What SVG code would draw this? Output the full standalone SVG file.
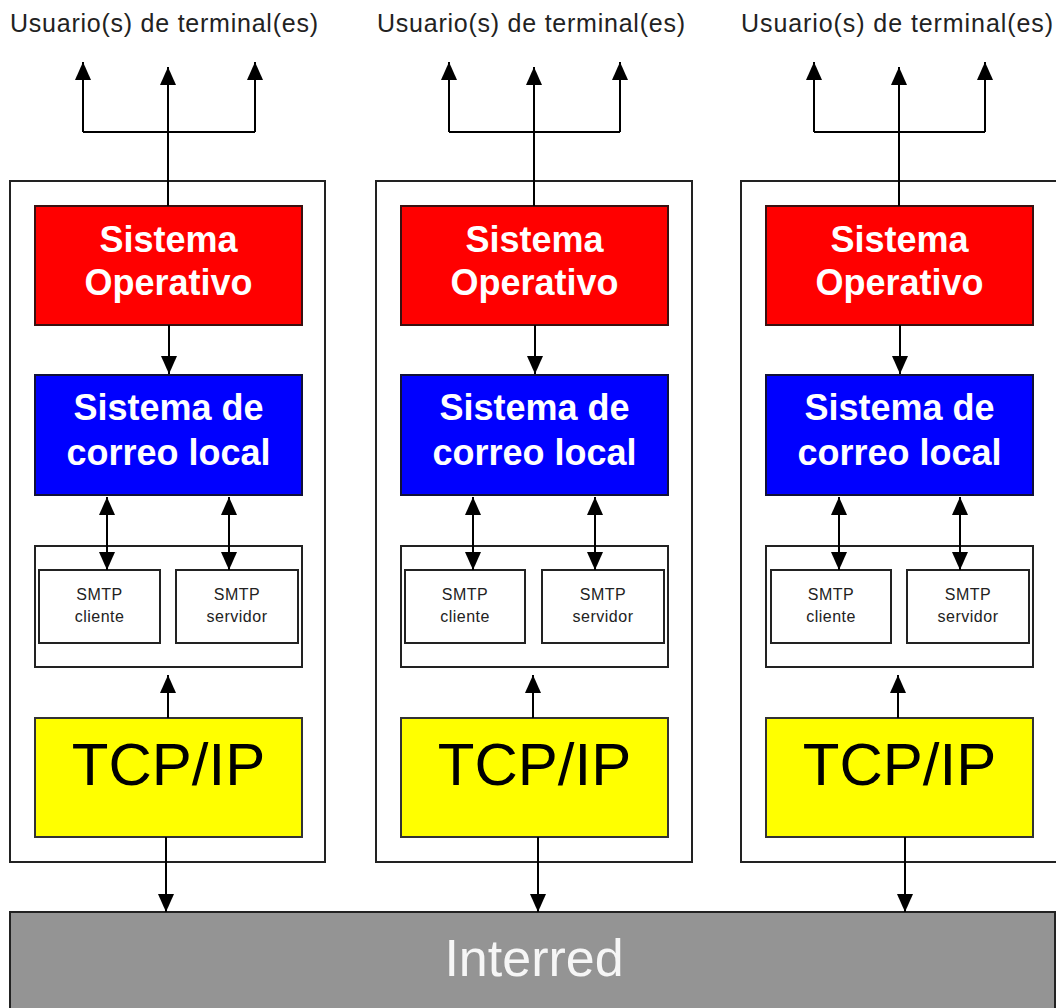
<svg xmlns="http://www.w3.org/2000/svg" width="1056" height="1008" viewBox="0 0 1056 1008">
<style>
.frame{fill:#fff;stroke:#222;stroke-width:2}
.os{fill:#ff0000;stroke:#3a1010;stroke-width:2}
.mail{fill:#0000ff;stroke:#10103a;stroke-width:2}
.smtp{fill:#fff;stroke:#222;stroke-width:2}
.tcp{fill:#ffff00;stroke:#333;stroke-width:2}
.net{fill:#949494;stroke:#222;stroke-width:2}
.big{font-family:"Liberation Sans",Arial,sans-serif;font-weight:bold;font-size:36px;fill:#fff;text-anchor:middle}
.small{font-family:"Liberation Sans",Arial,sans-serif;font-size:16px;fill:#222;text-anchor:middle;letter-spacing:0.5px}
.tcpt{font-family:"Liberation Sans",Arial,sans-serif;font-size:60px;fill:#000;text-anchor:middle}
.user{font-family:"Liberation Sans",Arial,sans-serif;font-size:25px;fill:#222}
.nett{font-family:"Liberation Sans",Arial,sans-serif;font-size:52px;fill:#f6f6f6;text-anchor:middle}
.c{stroke:#000;stroke-width:2;fill:none}
.a{stroke:#000;stroke-width:2;fill:none;marker-end:url(#ah)}
.d{stroke:#000;stroke-width:2;fill:none;marker-end:url(#ah);marker-start:url(#ahs)}
</style>
<defs>
<marker id="ah" markerUnits="userSpaceOnUse" markerWidth="18" markerHeight="16" refX="18" refY="8" orient="auto">
<path d="M0,0 L18,8 L0,16 z" fill="#000"/>
</marker>
<marker id="ahs" markerUnits="userSpaceOnUse" markerWidth="18" markerHeight="16" refX="0" refY="8" orient="auto">
<path d="M18,0 L0,8 L18,16 z" fill="#000"/>
</marker>
</defs>
<rect width="1056" height="1008" fill="#fff"/>

<g id="interred">
<rect class="net" x="10" y="912" width="1045" height="110"/>
<text class="nett" x="534" y="976">Interred</text>
</g>

<g id="col1">
<g id="users1"><text class="user" x="10" y="32" textLength="308" lengthAdjust="spacing">Usuario(s) de terminal(es)</text></g>
<g id="host1"><rect class="frame" x="10" y="181" width="315" height="681"/></g>
<g id="os1"><rect class="os" x="35" y="206" width="267" height="119"/><text class="big" x="168.5" y="252">Sistema</text><text class="big" x="168.5" y="295">Operativo</text></g>
<g id="mail1"><rect class="mail" x="35" y="375" width="267" height="120"/><text class="big" x="168.5" y="420">Sistema de</text><text class="big" x="168.5" y="465">correo local</text></g>
<g id="smtpbox1"><rect class="smtp" x="35" y="546" width="267" height="121"/></g>
<g id="cli1"><rect class="smtp" x="39" y="570" width="121" height="73"/><text class="small" x="99.5" y="600">SMTP</text><text class="small" x="99.5" y="622">cliente</text></g>
<g id="srv1"><rect class="smtp" x="176" y="570" width="122" height="73"/><text class="small" x="237" y="600">SMTP</text><text class="small" x="237" y="622">servidor</text></g>
<g id="tcp1"><rect class="tcp" x="35" y="718" width="267" height="119"/><text class="tcpt" x="168.5" y="785">TCP/IP</text></g>
</g>

<g id="col2">
<g id="users2"><text class="user" x="377" y="32" textLength="308" lengthAdjust="spacing">Usuario(s) de terminal(es)</text></g>
<g id="host2"><rect class="frame" x="376" y="181" width="316" height="681"/></g>
<g id="os2"><rect class="os" x="401" y="206" width="267" height="119"/><text class="big" x="534.5" y="252">Sistema</text><text class="big" x="534.5" y="295">Operativo</text></g>
<g id="mail2"><rect class="mail" x="401" y="375" width="267" height="120"/><text class="big" x="534.5" y="420">Sistema de</text><text class="big" x="534.5" y="465">correo local</text></g>
<g id="smtpbox2"><rect class="smtp" x="401" y="546" width="267" height="121"/></g>
<g id="cli2"><rect class="smtp" x="405" y="570" width="120" height="73"/><text class="small" x="465" y="600">SMTP</text><text class="small" x="465" y="622">cliente</text></g>
<g id="srv2"><rect class="smtp" x="542" y="570" width="122" height="73"/><text class="small" x="603" y="600">SMTP</text><text class="small" x="603" y="622">servidor</text></g>
<g id="tcp2"><rect class="tcp" x="401" y="718" width="267" height="119"/><text class="tcpt" x="534.5" y="785">TCP/IP</text></g>
</g>

<g id="col3">
<g id="users3"><text class="user" x="741" y="32" textLength="312" lengthAdjust="spacing">Usuario(s) de terminal(es)</text></g>
<g id="host3"><rect class="frame" x="741" y="181" width="320" height="681"/></g>
<g id="os3"><rect class="os" x="766" y="206" width="267" height="119"/><text class="big" x="899.5" y="252">Sistema</text><text class="big" x="899.5" y="295">Operativo</text></g>
<g id="mail3"><rect class="mail" x="766" y="375" width="267" height="120"/><text class="big" x="899.5" y="420">Sistema de</text><text class="big" x="899.5" y="465">correo local</text></g>
<g id="smtpbox3"><rect class="smtp" x="766" y="546" width="267" height="121"/></g>
<g id="cli3"><rect class="smtp" x="771" y="570" width="120" height="73"/><text class="small" x="831" y="600">SMTP</text><text class="small" x="831" y="622">cliente</text></g>
<g id="srv3"><rect class="smtp" x="907" y="570" width="122" height="73"/><text class="small" x="968" y="600">SMTP</text><text class="small" x="968" y="622">servidor</text></g>
<g id="tcp3"><rect class="tcp" x="766" y="718" width="267" height="119"/><text class="tcpt" x="899.5" y="785">TCP/IP</text></g>
</g>

<g id="connectors">
<path class="c" d="M83,132 H255"/>
<path class="a" d="M83,132 V62"/>
<path class="a" d="M255,132 V62"/>
<path class="a" d="M168,206 V67"/>
<path class="a" d="M169,325 V374"/>
<path class="d" d="M107,497 V570"/>
<path class="d" d="M229,497 V570"/>
<path class="a" d="M168,718 V675"/>
<path class="a" d="M166,837 V912"/>
<path class="c" d="M449,132 H620"/>
<path class="a" d="M449,132 V62"/>
<path class="a" d="M620,132 V62"/>
<path class="a" d="M534,206 V67"/>
<path class="a" d="M535,325 V374"/>
<path class="d" d="M473,497 V570"/>
<path class="d" d="M595,497 V570"/>
<path class="a" d="M533,718 V675"/>
<path class="a" d="M538,837 V912"/>
<path class="c" d="M814,132 H985"/>
<path class="a" d="M814,132 V62"/>
<path class="a" d="M985,132 V62"/>
<path class="a" d="M899,206 V67"/>
<path class="a" d="M900,325 V374"/>
<path class="d" d="M839,497 V570"/>
<path class="d" d="M960,497 V570"/>
<path class="a" d="M898,718 V675"/>
<path class="a" d="M905,837 V912"/>
</g>
</svg>
